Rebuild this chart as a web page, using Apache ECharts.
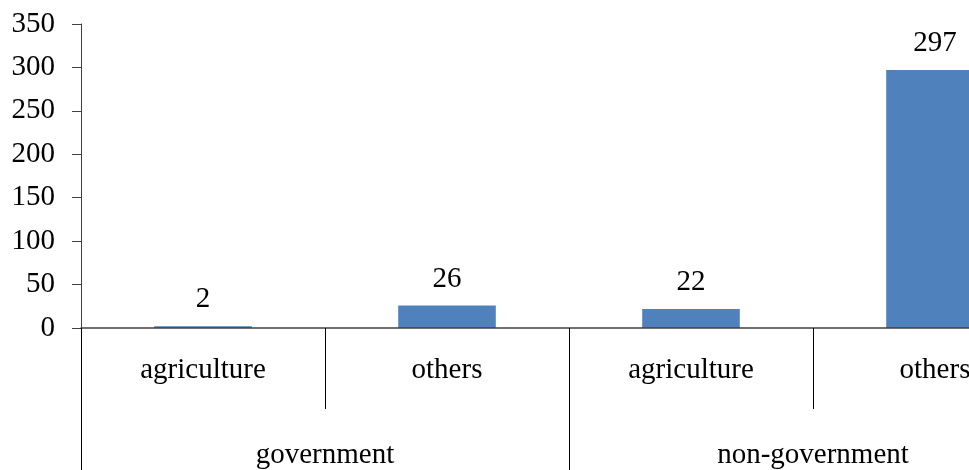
<!DOCTYPE html>
<html>
<head>
<meta charset="utf-8">
<script src="https://cdn.jsdelivr.net/npm/echarts@6/dist/echarts.min.js"></script>
<style>
  html, body { margin: 0; padding: 0; background: #fff; overflow: hidden; }
  #chart { width: 1060px; height: 470px; }
</style>
</head>
<body>
<div id="chart"></div>
<script>
// Sector breakdown: inner level of the category axis, grouped by ownership
const sectors = ['agriculture', 'others', 'agriculture', 'others'];
const groups = ['government', 'non-government'];
const counts = [2, 26, 22, 297];
const yTicks = { min: 0, max: 350, interval: 50 };

const serif = "'Times New Roman', Times, 'Liberation Serif', serif";
const ink = '#000';
const textSize = 29;

const chart = echarts.init(document.getElementById('chart'), null, { renderer: 'canvas' });
chart.setOption({
  animation: false,
  textStyle: { fontFamily: serif },
  grid: { left: 81, top: 24, bottom: 139, right: 3, containLabel: false },
  xAxis: [
    {
      type: 'category',
      data: sectors,
      position: 'bottom',
      z: 5,
      axisLine: { show: true, lineStyle: { color: '#404040', width: 1.5 } },
      axisTick: { show: true, interval: 0, length: 81, lineStyle: { color: ink, width: 1 } },
      axisLabel: { interval: 0, margin: 28, color: ink, fontFamily: serif, fontSize: textSize }
    },
    {
      type: 'category',
      data: groups,
      position: 'bottom',
      axisLine: { show: false },
      axisTick: { show: true, interval: 0, length: 145, lineStyle: { color: ink, width: 1 } },
      axisLabel: { interval: 0, margin: 113, color: ink, fontFamily: serif, fontSize: textSize }
    }
  ],
  yAxis: {
    type: 'value',
    min: yTicks.min,
    max: yTicks.max,
    interval: yTicks.interval,
    axisLine: { show: true, lineStyle: { color: '#404040', width: 1 } },
    axisTick: { show: true, length: 9, lineStyle: { color: '#404040', width: 1 } },
    splitLine: { show: false },
    axisLabel: { margin: 26, color: ink, fontFamily: serif, fontSize: textSize }
  },
  series: [
    {
      type: 'bar',
      xAxisIndex: 0,
      data: counts,
      barWidth: '40%',
      itemStyle: { color: '#4F81BD' },
      label: {
        show: true,
        position: 'top',
        distance: 12,
        color: ink,
        fontFamily: serif,
        fontSize: textSize
      }
    }
  ]
});
</script>
</body>
</html>
